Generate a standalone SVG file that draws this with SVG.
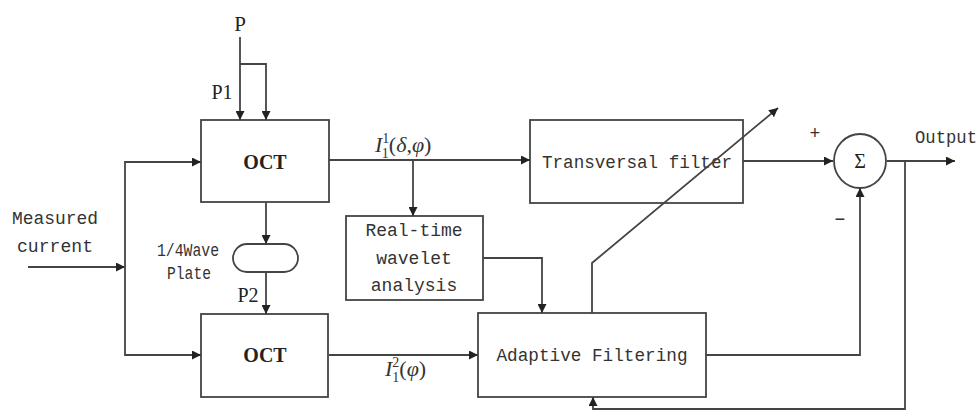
<svg xmlns="http://www.w3.org/2000/svg" width="979" height="417" viewBox="0 0 979 417">
<defs>
<marker id="ah" viewBox="0 0 10 10" refX="10" refY="5" markerWidth="9" markerHeight="9" markerUnits="userSpaceOnUse" orient="auto"><path d="M0,0 L10,5 L0,10 z" fill="#222"/></marker>
<style>
.box{fill:#fff;stroke:#444;stroke-width:1.8}
.ln{fill:none;stroke:#444;stroke-width:1.8}
.arr{fill:none;stroke:#444;stroke-width:1.8;marker-end:url(#ah)}
.mono{font-family:"Liberation Mono","DejaVu Sans Mono",monospace;font-size:18px;fill:#333}
.ser{font-family:"Liberation Serif","Times New Roman",serif;fill:#222}
.bold{font-family:"Liberation Serif","Times New Roman",serif;font-weight:bold;font-size:20px;fill:#222}
.it{font-family:"Liberation Serif","Times New Roman",serif;font-style:italic;font-size:22px;fill:#333}
</style>
</defs>
<rect width="979" height="417" fill="#fff"/>

<g id="P"><text class="ser" x="240" y="31" font-size="21" text-anchor="middle">P</text></g>
<g id="P1"><text class="ser" x="222" y="99" font-size="20" text-anchor="middle">P1</text></g>
<g id="P2"><text class="ser" x="248" y="302" font-size="20" text-anchor="middle">P2</text></g>

<g id="measured">
<text class="mono" x="55" y="224" text-anchor="middle" textLength="86" lengthAdjust="spacingAndGlyphs">Measured</text>
<text class="mono" x="55" y="252" text-anchor="middle" textLength="76" lengthAdjust="spacingAndGlyphs">current</text>
</g>

<g id="oct1">
<rect class="box" x="201" y="120" width="128" height="82"/>
<text class="bold" x="265" y="169" text-anchor="middle">OCT</text>
</g>

<g id="oct2">
<rect class="box" x="201" y="314" width="127" height="83"/>
<text class="bold" x="265" y="362" text-anchor="middle">OCT</text>
</g>

<g id="waveplate">
<rect class="box" x="233" y="244" width="65" height="28" rx="14" ry="14"/>
<text class="mono" x="188" y="256" font-size="12" text-anchor="middle" textLength="62" lengthAdjust="spacingAndGlyphs">1/4Wave</text>
<text class="mono" x="189" y="279" font-size="12" text-anchor="middle" textLength="44" lengthAdjust="spacingAndGlyphs">Plate</text>
</g>

<g id="label-i1">
<text class="it" x="375" y="152">I<tspan font-size="14" dy="-9" font-style="normal">1</tspan><tspan font-size="14" dx="-7" dy="15" font-style="normal">1</tspan><tspan dy="-6" font-style="normal">(</tspan><tspan>δ</tspan><tspan font-style="normal">,</tspan><tspan>φ</tspan><tspan font-style="normal">)</tspan></text>
</g>

<g id="label-i2">
<text class="it" x="385" y="376">I<tspan font-size="14" dy="-9" font-style="normal">2</tspan><tspan font-size="14" dx="-7" dy="15" font-style="normal">1</tspan><tspan dy="-6" font-style="normal">(</tspan><tspan>φ</tspan><tspan font-style="normal">)</tspan></text>
</g>

<g id="wavelet">
<rect class="box" x="346" y="216" width="137" height="84"/>
<text class="mono" x="414" y="236" text-anchor="middle" textLength="97" lengthAdjust="spacingAndGlyphs">Real-time</text>
<text class="mono" x="414" y="264" text-anchor="middle">wavelet</text>
<text class="mono" x="414" y="291" text-anchor="middle">analysis</text>
</g>

<g id="transversal">
<rect class="box" x="530" y="120" width="213" height="83"/>
<text class="mono" x="637" y="168" text-anchor="middle" textLength="190" lengthAdjust="spacingAndGlyphs">Transversal filter</text>
</g>

<g id="adaptive">
<rect class="box" x="478" y="313" width="228" height="84"/>
<text class="mono" x="592" y="361" text-anchor="middle" textLength="191" lengthAdjust="spacingAndGlyphs">Adaptive Filtering</text>
</g>

<g id="sum">
<ellipse class="box" cx="860" cy="161" rx="26" ry="27"/>
<text class="ser" x="860" y="168" font-size="20" text-anchor="middle">Σ</text>
<text class="mono" x="815" y="139" text-anchor="middle">+</text>
<text class="mono" x="840" y="225" text-anchor="middle">−</text>
</g>

<g id="output"><text class="mono" x="946" y="143" text-anchor="middle" textLength="62" lengthAdjust="spacingAndGlyphs">Output</text></g>

<g id="connectors">
<line class="ln" x1="240" y1="37" x2="240" y2="64"/>
<line class="arr" x1="240" y1="64" x2="240" y2="120"/>
<polyline class="arr" points="240,64 266,64 266,120"/>
<line class="arr" x1="28" y1="267" x2="125" y2="267"/>
<polyline class="arr" points="125,267 125,162 201,162"/>
<polyline class="arr" points="125,267 125,355 201,355"/>
<line class="arr" x1="266" y1="202" x2="266" y2="244"/>
<line class="arr" x1="266" y1="272" x2="266" y2="314"/>
<line class="arr" x1="329" y1="160" x2="530" y2="160"/>
<line class="arr" x1="413" y1="160" x2="413" y2="216"/>
<polyline class="arr" points="483,258 542,258 542,313"/>
<line class="arr" x1="329" y1="355" x2="478" y2="355"/>
<line class="arr" x1="743" y1="161" x2="833" y2="161"/>
<line class="arr" x1="887" y1="161" x2="955" y2="161"/>
<polyline class="arr" points="706,355 860,355 860,188"/>
<polyline class="arr" points="905,161 905,409 593,409 593,397"/>
<polyline class="arr" points="592,313 592,263 778,108"/>
</g>
</svg>
